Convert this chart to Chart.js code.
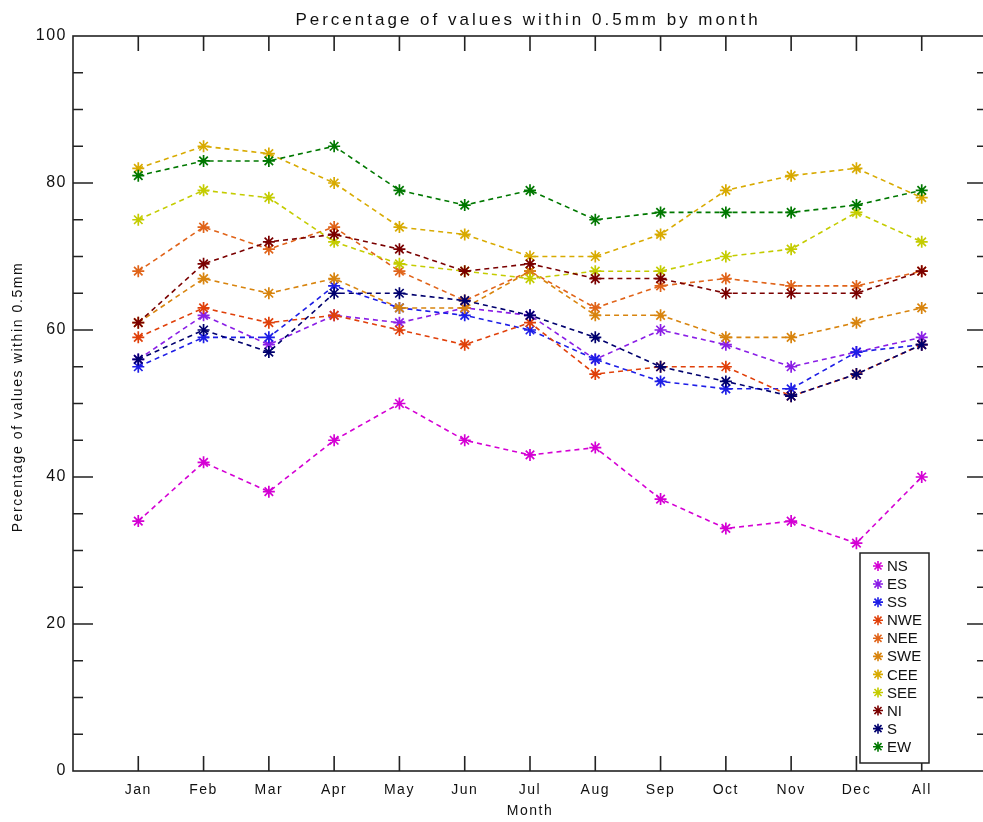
<!DOCTYPE html>
<html>
<head>
<meta charset="utf-8">
<title>Percentage of values within 0.5mm by month</title>
<script src="https://cdn.jsdelivr.net/npm/chart.js@4.4.1/dist/chart.umd.min.js"></script>
<style>
  html, body { margin: 0; padding: 0; background: #fff; overflow: hidden; }
  #wrap { position: relative; width: 1000px; height: 822px; }
</style>
</head>
<body>
<div id="wrap"><canvas id="monthChart"></canvas></div>
<script>
// months along the x axis, "All" is the whole-year figure
const months = ["Jan", "Feb", "Mar", "Apr", "May", "Jun", "Jul", "Aug", "Sep", "Oct", "Nov", "Dec", "All"];

// % of values within 0.5mm, one array per region
const NS  = [34, 42, 38, 45, 50, 45, 43, 44, 37, 33, 34, 31, 40];
const ES  = [56, 62, 58, 62, 61, 63, 62, 56, 60, 58, 55, 57, 59];
const SS  = [55, 59, 59, 66, 63, 62, 60, 56, 53, 52, 52, 57, 58];
const NWE = [59, 63, 61, 62, 60, 58, 61, 54, 55, 55, 51, 54, 58];
const NEE = [68, 74, 71, 74, 68, 64, 68, 63, 66, 67, 66, 66, 68];
const SWE = [61, 67, 65, 67, 63, 63, 68, 62, 62, 59, 59, 61, 63];
const CEE = [82, 85, 84, 80, 74, 73, 70, 70, 73, 79, 81, 82, 78];
const SEE = [75, 79, 78, 72, 69, 68, 67, 68, 68, 70, 71, 76, 72];
const NI  = [61, 69, 72, 73, 71, 68, 69, 67, 67, 65, 65, 65, 68];
const S   = [56, 60, 57, 65, 65, 64, 62, 59, 55, 53, 51, 54, 58];
const EW  = [81, 83, 83, 85, 79, 77, 79, 75, 76, 76, 76, 77, 79];

const seriesNames = ["NS", "ES", "SS", "NWE", "NEE", "SWE", "CEE", "SEE", "NI", "S", "EW"];
const seriesValues = [NS, ES, SS, NWE, NEE, SWE, CEE, SEE, NI, S, EW];
const seriesColors = ["#d400d4", "#8a1ee6", "#1e1ee6", "#e0400a", "#e0641a", "#d8840e",
                      "#d8aa00", "#c4cc00", "#7a0000", "#00006e", "#007800"];

const yTicks = [0, 20, 40, 60, 80, 100];
const FONT = '"Liberation Sans", Arial, sans-serif';
const INK = "#111";

function drawStar(ctx, cx, cy, r) {
  ctx.beginPath();
  for (let k = 0; k < 4; k++) {
    const ang = k * Math.PI / 4;
    ctx.moveTo(cx - r * Math.cos(ang), cy - r * Math.sin(ang));
    ctx.lineTo(cx + r * Math.cos(ang), cy + r * Math.sin(ang));
  }
  ctx.stroke();
}

// wider letter spacing for the tick labels
const textSpacing = {
  id: "textSpacing",
  beforeLayout(chart) { chart.ctx.letterSpacing = "1.5px"; },
  beforeDraw(chart) { chart.ctx.letterSpacing = "1.5px"; }
};

// box round the plot with inward tick marks on all four sides
const frame = {
  id: "frame",
  afterDatasetsDraw(chart) {
    const { ctx, chartArea: a, scales: { x, y } } = chart;
    ctx.save();
    ctx.strokeStyle = "#222";
    ctx.lineWidth = 1.6;
    ctx.strokeRect(a.left, a.top, a.right - a.left, a.bottom - a.top);
    ctx.beginPath();
    months.forEach((m, i) => {
      const px = x.getPixelForValue(i);
      ctx.moveTo(px, a.bottom); ctx.lineTo(px, a.bottom - 15);
      ctx.moveTo(px, a.top); ctx.lineTo(px, a.top + 15);
    });
    for (let v = 5; v < 100; v += 5) {
      const py = y.getPixelForValue(v);
      const len = yTicks.includes(v) ? 20 : 10;
      ctx.moveTo(a.left, py); ctx.lineTo(a.left + len, py);
      ctx.moveTo(a.right, py); ctx.lineTo(a.right - len, py);
    }
    ctx.stroke();
    ctx.restore();
  }
};

// chart title and axis titles
const titles = {
  id: "titles",
  afterDraw(chart) {
    const { ctx, chartArea: a } = chart;
    const cx = (a.left + a.right) / 2;
    ctx.save();
    ctx.fillStyle = INK;
    ctx.textAlign = "center";
    ctx.textBaseline = "middle";
    ctx.font = "17px " + FONT;
    ctx.letterSpacing = "3px";
    ctx.fillText("Percentage of values within 0.5mm by month", cx - 2, 20);
    ctx.font = "14px " + FONT;
    ctx.letterSpacing = "1.5px";
    ctx.fillText("Month", cx, 811);
    ctx.translate(18, 397);
    ctx.rotate(-Math.PI / 2);
    ctx.font = "14px " + FONT;
    ctx.letterSpacing = "1.6px";
    ctx.fillText("Percentage of values within 0.5mm", 0, 0);
    ctx.restore();
  }
};

// boxed legend in the lower right corner
const legendBox = {
  id: "legendBox",
  afterDraw(chart) {
    const ctx = chart.ctx;
    const left = 860, top = 553, right = 929, bottom = 763;
    ctx.save();
    ctx.fillStyle = "#fff";
    ctx.fillRect(left, top, right - left, bottom - top);
    ctx.strokeStyle = "#222";
    ctx.lineWidth = 1.5;
    ctx.strokeRect(left, top, right - left, bottom - top);
    ctx.font = "15px " + FONT;
    ctx.letterSpacing = "0px";
    ctx.textAlign = "left";
    ctx.textBaseline = "middle";
    chart.data.datasets.forEach((ds, i) => {
      const yy = 566 + i * 18.07;
      ctx.strokeStyle = ds.borderColor;
      ctx.lineWidth = 1.6;
      drawStar(ctx, 878, yy, 5);
      ctx.fillStyle = INK;
      ctx.fillText(ds.label, 887, yy + 1);
    });
    ctx.restore();
  }
};

const monthCtx = document.getElementById("monthChart").getContext("2d");
const monthChart = new Chart(monthCtx, {
  type: "line",
  data: {
    datasets: seriesNames.map((name, i) => ({
      label: name,
      data: seriesValues[i].map((v, k) => ({ x: k, y: v })),
      borderColor: seriesColors[i],
      backgroundColor: seriesColors[i],
      borderWidth: 1.6,
      borderDash: [5, 4],
      pointStyle: "star",
      pointRadius: 6,
      pointHoverRadius: 6,
      pointBorderWidth: 1.7,
      tension: 0,
      fill: false,
      order: seriesNames.length - i
    }))
  },
  options: {
    responsive: true,
    maintainAspectRatio: false,
    animation: false,
    events: [],
    layout: { padding: { top: 36, right: 13, bottom: 0, left: 0 } },
    plugins: {
      legend: { display: false },
      tooltip: { enabled: false },
      title: { display: false }
    },
    scales: {
      x: {
        type: "linear",
        min: -1,
        max: 13,
        grid: { display: false, drawTicks: false },
        border: { display: false },
        ticks: {
          stepSize: 1,
          maxTicksLimit: 20,
          autoSkip: false,
          maxRotation: 0,
          padding: 11,
          color: INK,
          font: { family: FONT, size: 14 },
          callback: (v) => months[v] ?? ""
        },
        afterFit(scale) { scale.height = 51; }
      },
      y: {
        min: 0,
        max: 100,
        grid: { display: false, drawTicks: false },
        border: { display: false },
        afterBuildTicks(scale) { scale.ticks = yTicks.map((v) => ({ value: v })); },
        ticks: {
          padding: 6,
          color: INK,
          font: { family: FONT, size: 16 }
        },
        afterFit(scale) { scale.width = 73; }
      }
    }
  },
  plugins: [textSpacing, frame, titles, legendBox]
});
</script>
</body>
</html>
